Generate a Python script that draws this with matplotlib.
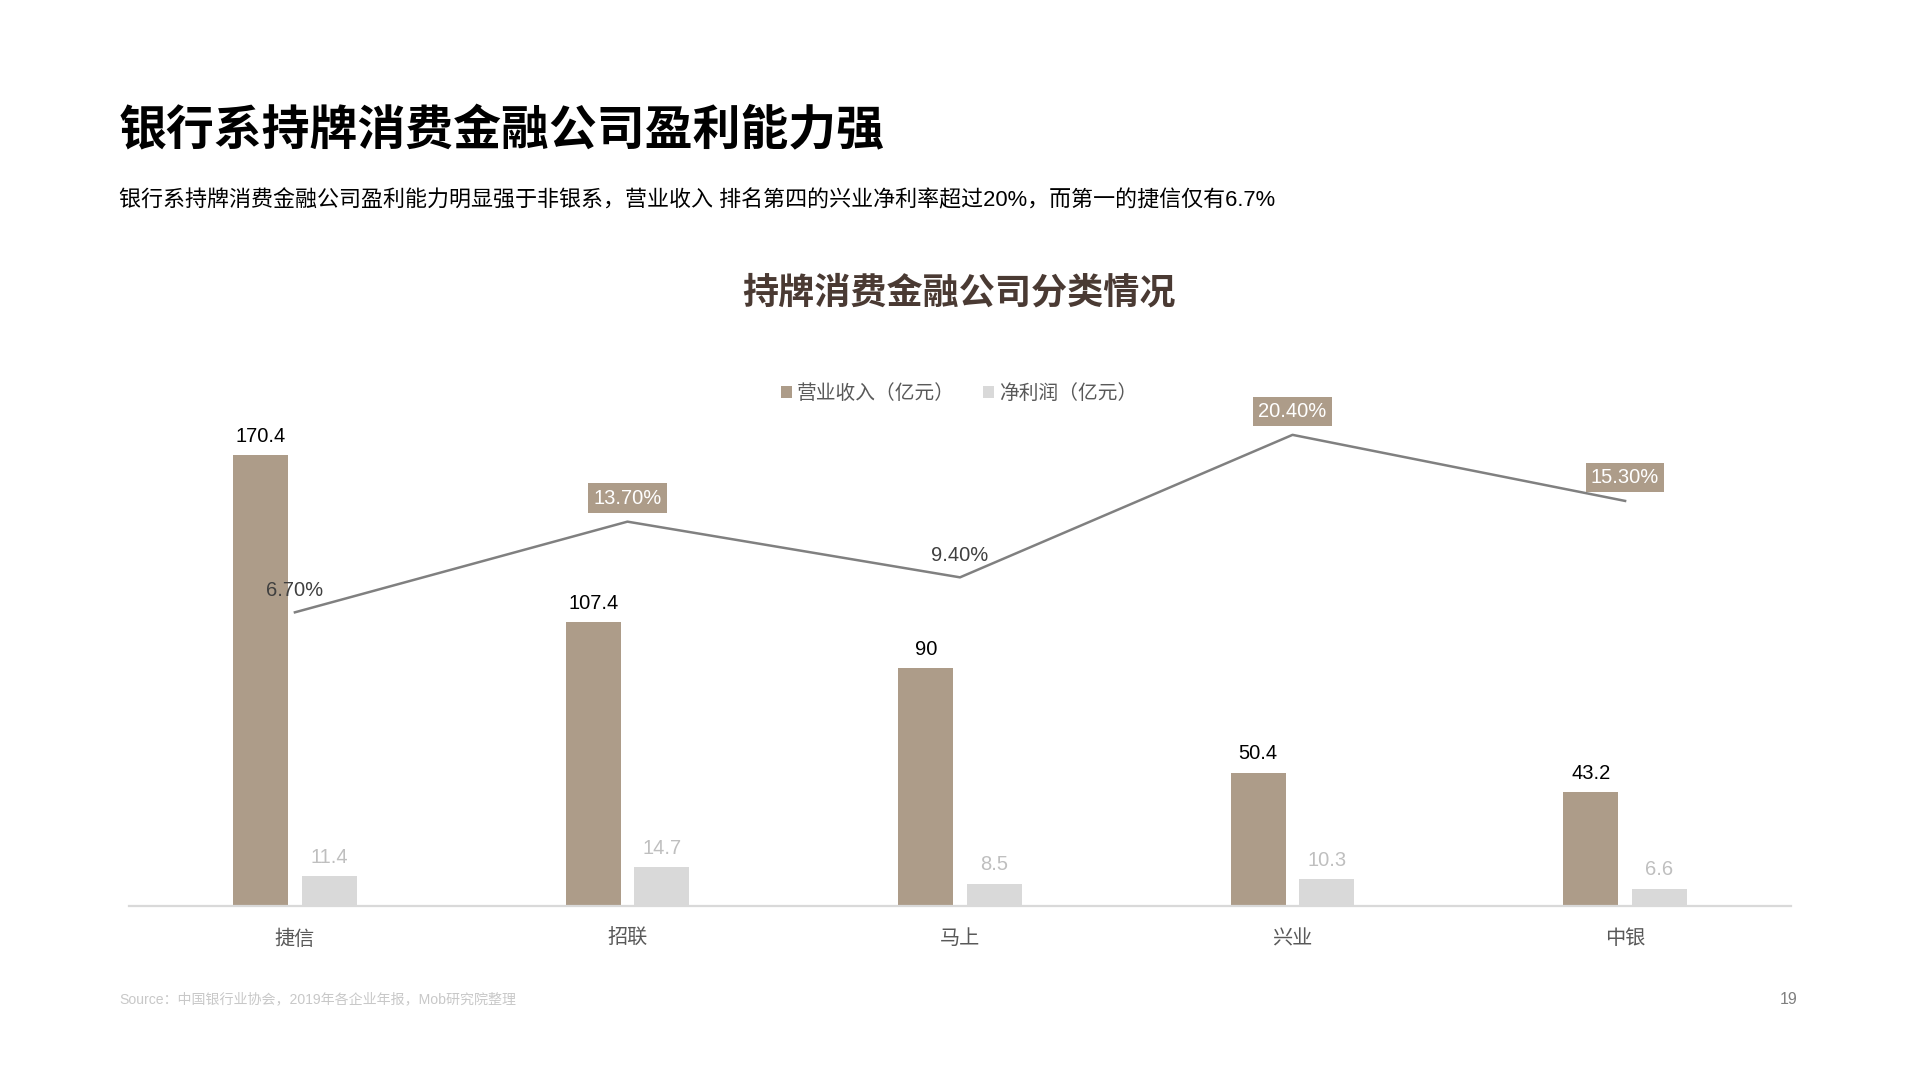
import matplotlib.pyplot as plt
import numpy as np

plt.rcParams['font.family'] = ['Liberation Sans', 'Noto Sans CJK SC']

# data
companies = ["捷信", "招联", "马上", "兴业", "中银"]
revenue = [170.4, 107.4, 90, 50.4, 43.2]          # 营业收入（亿元）
net_profit = [11.4, 14.7, 8.5, 10.3, 6.6]         # 净利润（亿元）
net_margin = [6.7, 13.7, 9.4, 20.4, 15.3]         # 净利率 %
margin_boxed = [False, True, False, True, True]

REV_COLOR = "#ad9c89"
NP_COLOR = "#d9d9d9"
LINE_COLOR = "#808080"

fig = plt.figure(figsize=(19.2, 10.8), dpi=100)
fig.patch.set_facecolor("white")

ax = fig.add_axes([0.067, 0.161, 0.866, 0.5611])
x = np.arange(len(companies))
w = 0.165
off = 0.103

b1 = ax.bar(x - off, revenue, w, color=REV_COLOR, label="营业收入（亿元）", zorder=2)
b2 = ax.bar(x + off, net_profit, w, color=NP_COLOR, label="净利润（亿元）", zorder=2)

for xi, v in zip(x, revenue):
    ax.annotate(f"{v:g}", (xi - off, v), xytext=(0, 13.5), textcoords="offset points",
                ha="center", va="center", fontsize=14.5, color="#000000")
for xi, v in zip(x, net_profit):
    ax.annotate(f"{v:g}", (xi + off, v), xytext=(0, 13.5), textcoords="offset points",
                ha="center", va="center", fontsize=14.5, color="#bfbfbf")

ax.set_xlim(-0.5, len(companies) - 0.5)
ax.set_ylim(0, 229)
ax.set_xticks(x)
ax.set_xticklabels(companies, fontsize=14.5, color="#595959")
ax.tick_params(axis="x", length=0, pad=16.5)
ax.set_yticks([])
for side in ["top", "left", "right"]:
    ax.spines[side].set_visible(False)
ax.spines["bottom"].set_color("#d9d9d9")
ax.spines["bottom"].set_linewidth(1.6)

# net margin line on a second axis
ax2 = ax.twinx()
ax2.plot(x, net_margin, color=LINE_COLOR, linewidth=1.8, zorder=3)
ax2.set_ylim(-15.98, 30.8)
ax2.set_yticks([])
for side in ["top", "left", "right", "bottom"]:
    ax2.spines[side].set_visible(False)

for xi, v, boxed in zip(x, net_margin, margin_boxed):
    if boxed:
        ax2.annotate(f"{v:.2f}%", (xi, v), xytext=(0, 17), textcoords="offset points",
                     ha="center", va="center", fontsize=14.5, color="white",
                     bbox=dict(boxstyle="square,pad=0.25", fc=REV_COLOR, ec="none"))
    else:
        ax2.annotate(f"{v:.2f}%", (xi, v), xytext=(0, 16), textcoords="offset points",
                     ha="center", va="center", fontsize=14.5, color="#404040")

leg = ax.legend(handles=[b1, b2], loc="center", bbox_to_anchor=(0.4995, 0.6355),
                bbox_transform=fig.transFigure, ncol=2, frameon=False, fontsize=14.2,
                handlelength=0.55, handleheight=0.55, handletextpad=0.25, columnspacing=1.45)
for t in leg.get_texts():
    t.set_color("#595959")

# page texts
fig.text(0.062, 1 - 131 / 1080, "银行系持牌消费金融公司盈利能力强", fontsize=34.5,
         fontweight="heavy", color="#000000", ha="left", va="center",
         family=["Noto Sans CJK SC"])
fig.text(0.062, 1 - 200.5 / 1080,
         "银行系持牌消费金融公司盈利能力明显强于非银系，营业收入 排名第四的兴业净利率超过20%，而第一的捷信仅有6.7%",
         fontsize=15.85, color="#000000", ha="left", va="center")
fig.text(0.4995, 1 - 293.5 / 1080, "持牌消费金融公司分类情况", fontsize=26, fontweight="bold",
         color="#4a3a33", ha="center", va="center", family=["Noto Sans CJK SC"])
fig.text(0.062, 1 - 999 / 1080, "Source：中国银行业协会，2019年各企业年报，Mob研究院整理",
         fontsize=10.1, color="#c8c8c8", ha="left", va="center")
fig.text(0.9318, 1 - 1000 / 1080, "19", fontsize=11.5, color="#7f7f7f", ha="center", va="center")

fig.savefig("out.png", dpi=100)
